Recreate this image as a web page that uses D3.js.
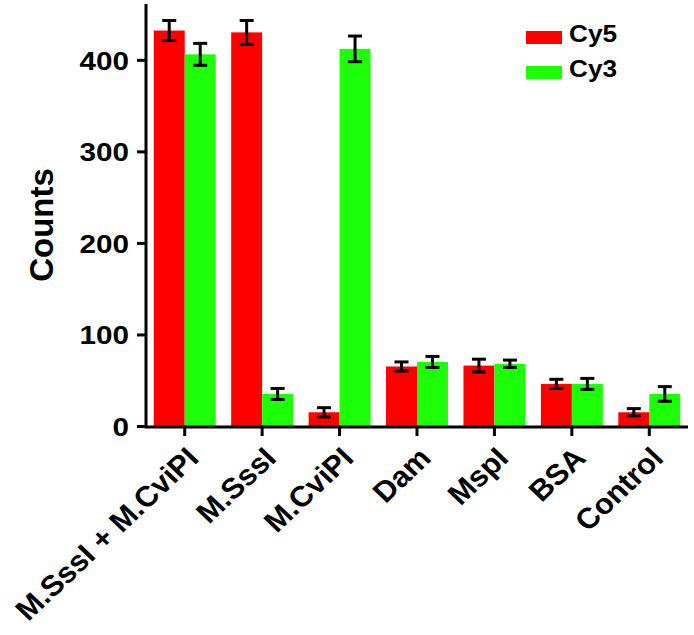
<!DOCTYPE html>
<html>
<head>
<meta charset="utf-8">
<script src="https://cdn.jsdelivr.net/npm/d3@7"></script>
<style>
  html, body { margin: 0; padding: 0; background: #fff; }
  text { font-family: "Liberation Sans", Arial, sans-serif; font-weight: bold; fill: #000; }
</style>
</head>
<body>
<svg id="chart" width="694" height="635"></svg>
<script>
const categories = ["M.SssI + M.CviPI", "M.SssI", "M.CviPI", "Dam", "MspI", "BSA", "Control"];
const seriesNames = ["Cy5", "Cy3"];
const cy5Values = [432, 430, 15, 65, 66, 46, 15];
const cy5Errors = [11, 13, 5, 5, 7, 5, 4];
const cy3Values = [406, 35, 412, 70, 68, 46, 35];
const cy3Errors = [12, 6, 14, 6, 4, 6, 8];
const yTicks = [0, 100, 200, 300, 400];
const colors = ["#ff0000", "#1cff08"];

const svg = d3.select("#chart");
const sx = 1.14; // horizontal stretch of the original artwork

const x = d3.scaleBand().domain(categories).range([146, 688]).paddingInner(0.2).paddingOuter(0.1);
const xs = d3.scaleBand().domain(seriesNames).range([0, x.bandwidth()]);
const y = d3.scaleLinear().domain([0, 461]).range([426, 4]);

const data = categories.map((c, i) => ({
  cat: c,
  vals: [
    { s: "Cy5", v: cy5Values[i], e: cy5Errors[i] },
    { s: "Cy3", v: cy3Values[i], e: cy3Errors[i] }
  ]
}));

const g = svg.selectAll("g.grp").data(data).enter().append("g")
  .attr("transform", d => `translate(${x(d.cat)},0)`);

g.selectAll("rect").data(d => d.vals).enter().append("rect")
  .attr("x", d => xs(d.s))
  .attr("width", xs.bandwidth())
  .attr("y", d => y(d.v))
  .attr("height", d => y(0) - y(d.v))
  .attr("fill", (d, i) => colors[i]);

// error bars
const eb = g.selectAll("g.err").data(d => d.vals).enter().append("g")
  .attr("stroke", "#000").attr("stroke-width", 3);
eb.append("line")
  .attr("x1", d => xs(d.s) + xs.bandwidth() / 2).attr("x2", d => xs(d.s) + xs.bandwidth() / 2)
  .attr("y1", d => y(d.v + d.e)).attr("y2", d => y(d.v - d.e));
eb.append("line")
  .attr("x1", d => xs(d.s) + xs.bandwidth() / 2 - 7).attr("x2", d => xs(d.s) + xs.bandwidth() / 2 + 7)
  .attr("y1", d => y(d.v + d.e)).attr("y2", d => y(d.v + d.e));
eb.append("line")
  .attr("x1", d => xs(d.s) + xs.bandwidth() / 2 - 7).attr("x2", d => xs(d.s) + xs.bandwidth() / 2 + 7)
  .attr("y1", d => y(d.v - d.e)).attr("y2", d => y(d.v - d.e));

// y axis
const yAxis = svg.append("g").attr("transform", "translate(146,0)")
  .call(d3.axisLeft(y).tickValues(yTicks).tickSize(9).tickSizeOuter(0).tickFormat(d3.format("d")));
yAxis.select(".domain").remove();
yAxis.selectAll(".tick line").attr("stroke", "#000").attr("stroke-width", 3);
yAxis.selectAll(".tick text").each(function() {
  const t = d3.select(this);
  t.attr("x", null).attr("dy", null)
   .attr("font-size", 26)
   .attr("text-anchor", "end")
   .attr("transform", `translate(-17,9.5) scale(${sx},1)`);
});
svg.append("line").attr("x1", 146).attr("x2", 146).attr("y1", y.range()[1]).attr("y2", 428)
  .attr("stroke", "#000").attr("stroke-width", 3);

// x axis
const xAxis = svg.append("g").attr("transform", "translate(0,427)")
  .call(d3.axisBottom(x).tickSize(9).tickSizeOuter(0));
xAxis.select(".domain").remove();
xAxis.selectAll(".tick line").attr("stroke", "#000").attr("stroke-width", 3);
xAxis.selectAll(".tick text")
  .attr("y", null).attr("dy", "0.72em")
  .attr("font-size", 29)
  .attr("text-anchor", "end")
  .attr("transform", `translate(0,18) scale(1.06,1) rotate(-45)`);
svg.append("line").attr("x1", 144.5).attr("x2", 688).attr("y1", 427).attr("y2", 427)
  .attr("stroke", "#000").attr("stroke-width", 3);

// y title
svg.append("text")
  .attr("transform", "translate(53,225) rotate(-90)")
  .attr("text-anchor", "middle")
  .attr("font-size", 33)
  .text("Counts");

// legend
const leg = svg.append("g").selectAll("g").data(seriesNames).enter().append("g")
  .attr("transform", (d, i) => `translate(526,${31 + i * 35})`);
leg.append("rect").attr("width", 36).attr("height", 13).attr("fill", (d, i) => colors[i]);
leg.append("text")
  .attr("transform", `translate(43,11) scale(${sx},1)`)
  .attr("font-size", 23)
  .text(d => d);
</script>
</body>
</html>
